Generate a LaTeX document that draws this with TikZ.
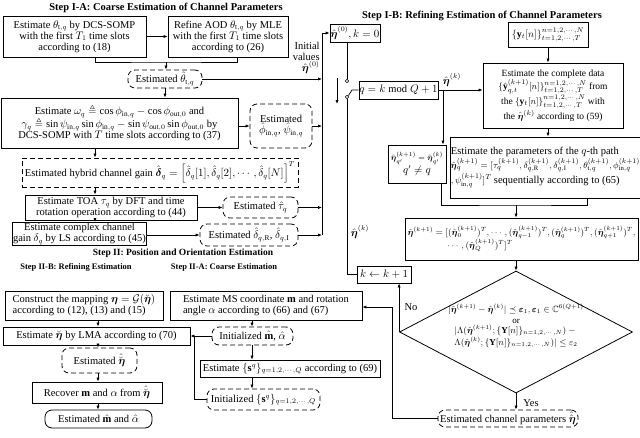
\documentclass[tikz,border=0pt]{standalone}
\usepackage{amsmath,amssymb}
\usepackage{fontspec}
\setmainfont{Liberation Serif}
\usepackage{tikz}
\usetikzlibrary{arrows.meta,shapes.geometric}

\begin{document}
\begin{tikzpicture}[x=1pt,y=-1pt,>={Latex[length=4pt,width=3.2pt]},line width=0.75pt,font=\fontsize{10.5}{11}\selectfont]
\tikzstyle{proc}=[draw,line width=0.8pt,align=center,inner sep=0.5pt]
\tikzstyle{est}=[draw,dash pattern=on 5pt off 3pt,rounded corners=7pt,line width=0.8pt,align=center,inner sep=0.5pt]
\tikzstyle{gainbox}=[draw,dash pattern=on 5pt off 3pt,line width=0.8pt,align=center,inner sep=0.5pt]
\tikzstyle{title}=[font=\fontsize{10.5}{12}\selectfont\bfseries,inner sep=0pt]
\tikzstyle{subtitle}=[font=\fontsize{8.5}{10}\selectfont\bfseries,inner sep=0pt]
\tikzstyle{tag}=[inner sep=0pt]
\useasboundingbox (0,0) rectangle (640,437);

\node[title] (tA) at (166,8) {Step I-A: Coarse Estimation of Channel Parameters};
\node[title] (tB) at (482,16) {Step I-B: Refining Estimation of Channel Parameters};
\node[title,font=\fontsize{9.5}{11}\selectfont\bfseries] (tII) at (183,253.5) {Step II: Position and Orientation Estimation};
\node[subtitle] (tIIB) at (76,267.5) {Step II-B: Refining Estimation};
\node[subtitle] (tIIA) at (224,267.5) {Step II-A: Coarse Estimation};

\node[proc,minimum width=143pt,minimum height=41pt] (s1) at (74.5,36.5) {Estimate $\theta_{\mathrm{t},q}$ by DCS-SOMP\\with the first $T_1$ time slots\\according to (18)};
\node[proc,minimum width=120pt,minimum height=41pt] (s2) at (228,36.5) {Refine AOD $\theta_{\mathrm{t},q}$ by MLE\\with the first $T_1$ time slots\\according to (26)};
\node[est,minimum width=74pt,minimum height=18pt] (thA) at (165,79) {Estimated $\hat{\theta}_{\mathrm{t},q}$};
\node[proc,minimum width=237pt,minimum height=50pt] (s3) at (119.5,123) {Estimate $\omega_q\triangleq\cos\phi_{\mathrm{in},q}-\cos\phi_{\mathrm{out},0}$ and\\$\gamma_q\triangleq\sin\psi_{\mathrm{in},q}\sin\phi_{\mathrm{in},q}-\sin\psi_{\mathrm{out},0}\sin\phi_{\mathrm{out},0}$ by\\DCS-SOMP with $T$ time slots according to (37)};
\node[est,minimum width=62pt,minimum height=44pt] (phiA) at (281,126) {Estimated\\$\hat{\phi}_{\mathrm{in},q}$, $\hat{\psi}_{\mathrm{in},q}$};
\node[gainbox,minimum width=276pt,minimum height=29pt] (gain) at (160,172.5) {Estimated hybrid channel gain $\hat{\boldsymbol{\delta}}_q=\Big[\hat{\delta}_q[1],\hat{\delta}_q[2],\cdots,\hat{\delta}_q[N]\Big]^T$};
\node[proc,minimum width=172pt,minimum height=25pt] (s4) at (111,207.5) {Estimate TOA $\tau_q$ by DFT and time\\rotation operation according to (44)};
\node[est,minimum width=75pt,minimum height=21pt] (tauA) at (260.5,207.5) {Estimated $\hat{\tau}_q$};
\node[proc,minimum width=105pt,minimum height=23pt,font=\fontsize{10.5}{10.5}\selectfont] (s5) at (79.5,234) {Estimate complex channel\\gain $\delta_q$ by LS according to (45)};
\node[est,minimum width=98pt,minimum height=22pt] (delA) at (249,235) {Estimated $\hat{\delta}_{q,\mathrm{R}}$, $\hat{\delta}_{q,\mathrm{I}}$};

\coordinate (colA) at (95,0);
\coordinate (m1) at (166,62);
\coordinate (busT) at (322,33);
\draw[->] (s1) -- (s2);
\draw ([xshift=20.5pt]s1.south) |- (m1) -| ([xshift=9pt]s2.south);
\draw[->] (m1) -- (thA.north -| m1);
\draw[->] (thA.east) -- (thA.east -| busT);
\node[tag,align=right,anchor=south east] (ivl) at (320,74) {Initial\\values\\$\hat{\boldsymbol{\eta}}^{(0)}$};
\draw[->] (thA.south) -- (thA.south |- s3.north);
\draw[->] (s3.east |- phiA.west) -- (phiA.west);
\draw[->] (phiA.east) -- (phiA.east -| busT);
\draw[->] (s3.south -| colA) -- (gain.north -| colA);
\draw[->] (gain.south -| colA) -- (s4.north -| colA);
\draw[->] (s4.south -| colA) -- (s5.north -| colA);
\draw[->] (s4) -- (tauA);
\draw[->] (tauA) -- (tauA -| busT);
\draw[->] (s5.east |- delA) -- (delA);
\draw[->] (delA) -- (delA -| busT);
\draw (delA -| busT) -- (busT);

\node[proc,minimum width=50pt,minimum height=18pt] (init) at (355,33) {$\hat{\boldsymbol{\eta}}^{(0)},k=0$};
\draw[->] (busT) -- (init);
\node[circle,draw,line width=0.6pt,inner sep=0pt,minimum size=3.5pt] (c1) at (347,81) {};
\node[circle,draw,line width=0.6pt,inner sep=0pt,minimum size=3.5pt] (c2) at (347,97) {};
\coordinate (lev) at (352,90);
\coordinate (da1) at (337,78);
\coordinate (da2) at (337,104);
\node[proc,minimum width=77pt,minimum height=18pt] (qb) at (398.5,90) {$q=k\bmod Q+1$};
\node[tag] (lq) at (452,80) {$\hat{\boldsymbol{\eta}}^{(k)}$};
\draw (init.south -| c1) -- (c1.north);
\draw (c2.north east) -- (lev) -- (qb.west);
\draw[->] (da1) -- (da2);

\node[proc,minimum width=80pt,minimum height=25pt,font=\fontsize{10}{11}\selectfont] (yb) at (548,34.5) {$\{\mathbf{y}_t[n]\}_{t=1,2,\cdots,T}^{n=1,2,\cdots,N}$};
\node[proc,minimum width=140pt,minimum height=65pt,font=\fontsize{9.5}{10}\selectfont] (comp) at (553,95.5) {Estimate the complete data\\$\{\hat{\mathbf{y}}_{q,t}^{(k+1)}[n]\}_{t=1,2,\cdots,T}^{n=1,2,\cdots,N}$ from\\the $\{\mathbf{y}_t[n]\}_{t=1,2,\cdots,T}^{n=1,2,\cdots,N}$ with\\the $\hat{\boldsymbol{\eta}}^{(k)}$ according to (59)};
\node[proc,minimum width=187pt,minimum height=61pt,align=left,font=\fontsize{9.5}{10.5}\selectfont] (par) at (545.5,167.5) {{\fontsize{10.5}{11}\selectfont Estimate the parameters of the $q$-th path}\\$\hat{\boldsymbol{\eta}}_q^{(k+1)}=[\tau_q^{(k+1)},\delta_{q,\mathrm{R}}^{(k+1)},\delta_{q,\mathrm{I}}^{(k+1)},\theta_{\mathrm{t},q}^{(k+1)},\phi_{\mathrm{in},q}^{(k+1)}$\\$,\psi_{\mathrm{in},q}^{(k+1)}]^T$ {\fontsize{10.5}{11}\selectfont sequentially according to (65)}};
\node[proc,minimum width=58pt,minimum height=38pt,font=\fontsize{8.5}{12}\selectfont] (eq) at (417,164) {$\hat{\boldsymbol{\eta}}_{q'}^{(k+1)}=\hat{\boldsymbol{\eta}}_{q'}^{(k)}$\\{\fontsize{10.5}{11}\selectfont$q'\neq q$}};
\node[proc,minimum width=233pt,minimum height=42pt,align=left,font=\fontsize{9}{13}\selectfont] (eta) at (521.5,239) {$\hat{\boldsymbol{\eta}}^{(k+1)}=[(\hat{\boldsymbol{\eta}}_0^{(k+1)})^T,\cdots,(\hat{\boldsymbol{\eta}}_{q-1}^{(k+1)})^T,(\hat{\boldsymbol{\eta}}_q^{(k+1)})^T,(\hat{\boldsymbol{\eta}}_{q+1}^{(k+1)})^T,$\\\hspace*{40pt}$\cdots,(\hat{\boldsymbol{\eta}}_Q^{(k+1)})^T]^T$};
\coordinate (br) at (443,90);
\coordinate (mg) at (516,205);
\draw[->] (qb) -- (qb -| comp.west);
\draw[->] (br) -- (br |- eq.north);
\draw[->] (yb) -- (yb |- comp.north);
\draw[->] (comp.south -| yb) -- (yb |- par.north);
\draw ([xshift=24pt]eq.south) |- (mg) -| ([xshift=42pt]par.south);
\draw[->] (mg) -- (mg |- eta.north);

\node[draw,diamond,line width=0.8pt,inner sep=0pt,minimum width=233pt,minimum height=122pt] (dia) at (516,332) {};
\node[tag,align=center,font=\fontsize{9}{10.5}\selectfont] (cond) at (516,326) {$|\hat{\boldsymbol{\eta}}^{(k+1)}-\hat{\boldsymbol{\eta}}^{(k)}|\preceq\boldsymbol{\varepsilon}_1,\boldsymbol{\varepsilon}_1\in\mathbb{C}^{6(Q+1)}$\\or\\$|\Lambda(\hat{\boldsymbol{\eta}}^{(k+1)};\{\mathbf{Y}[n]\}_{n=1,2,\cdots,N})-{}$\\$\Lambda(\hat{\boldsymbol{\eta}}^{(k)};\{\mathbf{Y}[n]\}_{n=1,2,\cdots,N})|\le\varepsilon_2$};
\draw[->] (eta.south -| dia) -- (dia.north);
\node[proc,minimum width=54pt,minimum height=17pt] (kk) at (384,274.5) {$k\leftarrow k+1$};
\node[tag] (lk) at (360,232) {$\hat{\boldsymbol{\eta}}^{(k)}$};
\draw (c2.south) -- (c2 |- kk) -- (kk.west);
\draw[->] (dia.west) -- (dia.west |- kk.south);
\node[tag] (no) at (411,307) {No};
\node[est,minimum width=140pt,minimum height=17pt] (estc) at (508,418.5) {Estimated channel parameters $\hat{\hat{\boldsymbol{\eta}}}$};
\draw[->] (dia.south) -- (dia.south |- estc.north);
\node[tag] (yes) at (531,403) {Yes};

\node[proc,minimum width=158pt,minimum height=29pt,align=left] (cons) at (84,305.5) {Construct the mapping $\boldsymbol{\eta}=\mathcal{G}(\breve{\boldsymbol{\eta}})$\\according to (12), (13) and (15)};
\node[proc,minimum width=192pt,minimum height=29pt,align=left] (ms) at (266,305.5) {Estimate MS coordinate $\mathbf{m}$ and rotation\\angle $\alpha$ according to (66) and (67)};
\node[proc,minimum width=187pt,minimum height=18pt] (lma) at (96.5,336) {Estimate $\breve{\boldsymbol{\eta}}$ by LMA according to (70)};
\node[est,minimum width=81pt,minimum height=18pt] (initm) at (252.5,336) {Initialized $\hat{\mathbf{m}}$, $\hat{\alpha}$};
\node[proc,minimum width=180pt,minimum height=17pt] (sest) at (290,368.5) {Estimate $\{\mathbf{s}^q\}_{q=1,2,\cdots,Q}$ according to (69)};
\node[est,minimum width=113pt,minimum height=21pt] (inits) at (263.5,399.5) {Initialized $\{\mathbf{s}^q\}_{q=1,2,\cdots,Q}$};
\node[est,minimum width=75pt,minimum height=25pt] (etab) at (99.5,360.5) {Estimated $\hat{\breve{\boldsymbol{\eta}}}$};
\node[proc,minimum width=130pt,minimum height=21pt] (rec) at (97,392.5) {Recover $\mathbf{m}$ and $\alpha$ from $\hat{\breve{\boldsymbol{\eta}}}$};
\node[draw,rounded corners=7pt,line width=0.8pt,inner sep=0.5pt,minimum width=107pt,minimum height=18pt] (fin) at (98.5,419) {Estimated $\hat{\mathbf{m}}$ and $\hat{\alpha}$};
\coordinate (colB) at (98,0);
\coordinate (colC) at (252,0);
\coordinate (jn) at (194,336);
\coordinate (rt) at (392,307);
\draw[->] (cons.south -| colB) -- (lma.north -| colB);
\draw[->] (lma.south -| colB) -- (etab.north -| colB);
\draw[->] (etab.south -| colB) -- (rec.north -| colB);
\draw[->] (rec.south -| colB) -- (fin.north -| colB);
\draw[->] (ms.south -| colC) -- (initm.north -| colC);
\draw[->] (initm.south -| colC) -- (sest.north -| colC);
\draw[->] (sest.south -| colC) -- (inits.north -| colC);
\draw[->] (initm.west) -- (lma.east);
\draw (inits.west) -| (jn);
\draw[->] (estc.west) -| (rt) -- (rt -| ms.east);
\end{tikzpicture}
\end{document}
